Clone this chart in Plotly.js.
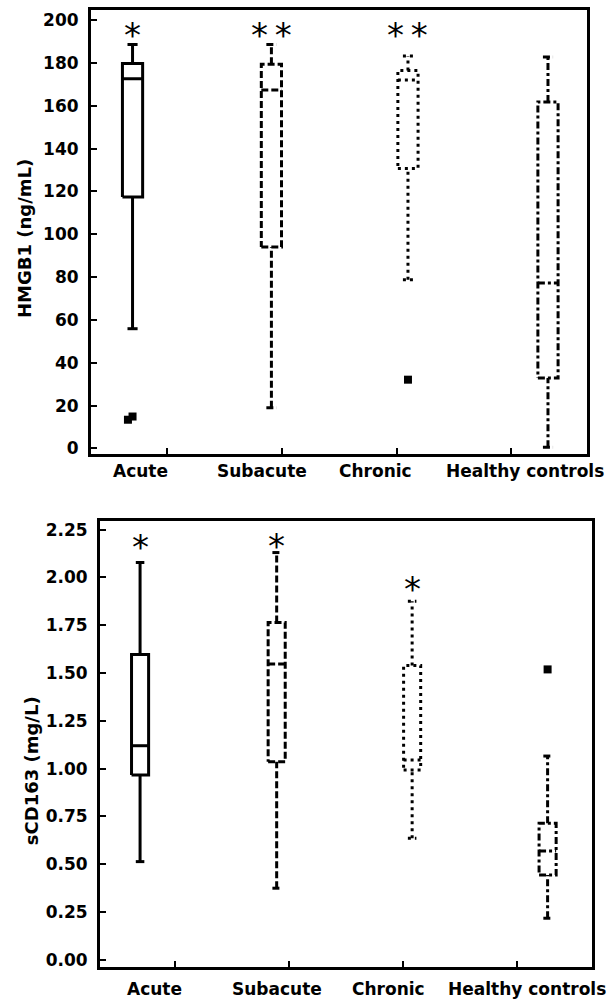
<!DOCTYPE html>
<html><head><meta charset="utf-8">
<script src="https://cdn.plot.ly/plotly-3.0.1.min.js"></script>
<style>html,body{margin:0;padding:0;background:#fff}</style>
</head><body><div id="chart" style="width:608px;height:999px"></div>
<script>
// ---- data ----
const categories = ['Acute', 'Subacute', 'Chronic', 'Healthy controls'];

// HMGB1 (ng/mL) box statistics
const hmgbLower  = [55.9, 19.0, 78.8, 0.6];
const hmgbQ1     = [117.4, 94.0, 130.7, 32.9];
const hmgbMedian = [172.6, 167.3, 172.0, 77.2];
const hmgbQ3     = [179.7, 179.4, 176.5, 161.8];
const hmgbUpper  = [188.6, 188.6, 183.2, 182.8];
const hmgbOutGroup  = [0, 0, 2];
const hmgbOutValue  = [13.4, 14.9, 32.1];
const hmgbOutJitter = [-0.04, 0.0, 0.0];
const hmgbStars  = ['*', '*\u2009*', '*\u2009*', ''];
const hmgbStarY  = [194, 194, 194, null];

// sCD163 (mg/L) box statistics
const cdLower  = [0.514, 0.375, 0.636, 0.218];
const cdQ1     = [0.967, 1.036, 0.993, 0.444];
const cdMedian = [1.120, 1.547, 1.045, 0.570];
const cdQ3     = [1.597, 1.764, 1.540, 0.714];
const cdUpper  = [2.078, 2.130, 1.875, 1.066];
const cdOutGroup  = [3];
const cdOutValue  = [1.519];
const cdOutJitter = [0.0];
const cdStars  = ['*', '*', '*', ''];
const cdStarY  = [2.18, 2.185, 1.96, null];

// ---- styling ----
const posTop = [0.70, 1.91, 3.10, 4.32];
const posBot = [0.69, 1.89, 3.08, 4.27];
const labelPosTop = [0.77, 1.83, 2.82, 4.12];
const labelPosBot = [0.815, 1.89, 2.87, 4.09];
const dashes = ['solid', '7px,3px', '3px,4px', '7px,3px,3px,3px'];
const FONT = 'DejaVu Sans, Arial, sans-serif';

function boxPath(p, lo, q1, med, q3, hi, hw) {
  const cw = hw / 2;
  const xs = [p - cw, p + cw, null, p, p, null,
              p - hw, p + hw, p + hw, p - hw, p - hw, null,
              p - hw, p + hw, null, p, p, null, p - cw, p + cw];
  const ys = [lo, lo, null, lo, q1, null,
              q1, q1, q3, q3, q1, null,
              med, med, null, q3, hi, null, hi, hi];
  return {xs, ys};
}

const traces = [];
function addPanel(pos, lo, q1, med, q3, hi, outG, outV, outJ, hw, xa, ya) {
  categories.forEach((c, i) => {
    const b = boxPath(pos[i], lo[i], q1[i], med[i], q3[i], hi[i], hw);
    traces.push({
      type: 'scatter', mode: 'lines', x: b.xs, y: b.ys, name: c,
      xaxis: xa, yaxis: ya, connectgaps: false, showlegend: false,
      line: {color: '#000', width: 3, dash: dashes[i]}, hoverinfo: 'skip'
    });
  });
  traces.push({
    type: 'scatter', mode: 'markers', xaxis: xa, yaxis: ya, showlegend: false,
    x: outG.map((g, k) => pos[g] + outJ[k]), y: outV,
    marker: {symbol: 'square', size: 8, color: '#000'}
  });
}
addPanel(posTop, hmgbLower, hmgbQ1, hmgbMedian, hmgbQ3, hmgbUpper,
         hmgbOutGroup, hmgbOutValue, hmgbOutJitter, 0.088, 'x', 'y');
addPanel(posBot, cdLower, cdQ1, cdMedian, cdQ3, cdUpper,
         cdOutGroup, cdOutValue, cdOutJitter, 0.075, 'x2', 'y2');

const annotations = [];
categories.forEach((c, i) => {
  annotations.push({text: c, xref: 'x', yref: 'paper', x: labelPosTop[i], y: 0.5285,
    xanchor: 'center', yanchor: 'middle', showarrow: false,
    font: {family: FONT, size: 17, color: '#000', weight: 'bold'}});
  annotations.push({text: c, xref: 'x2', yref: 'paper', x: labelPosBot[i], y: 0.010,
    xanchor: 'center', yanchor: 'middle', showarrow: false,
    font: {family: FONT, size: 17, color: '#000', weight: 'bold'}});
  if (hmgbStars[i]) annotations.push({text: hmgbStars[i], xref: 'x', yref: 'y',
    x: posTop[i], y: hmgbStarY[i], yshift: -2, showarrow: false,
    xanchor: 'center', yanchor: 'middle', font: {family: FONT, size: 34, color: '#000'}});
  if (cdStars[i]) annotations.push({text: cdStars[i], xref: 'x2', yref: 'y2',
    x: posBot[i], y: cdStarY[i], yshift: -4, showarrow: false,
    xanchor: 'center', yanchor: 'middle', font: {family: FONT, size: 34, color: '#000'}});
});
annotations.push({text: 'HMGB1 (ng/mL)', xref: 'paper', yref: 'paper', x: 25/608, y: 0.7608,
  textangle: -90, showarrow: false, xanchor: 'center', yanchor: 'middle',
  font: {family: FONT, size: 18, color: '#000', weight: 'bold'}});
annotations.push({text: 'sCD163 (mg/L)', xref: 'paper', yref: 'paper', x: 31/608, y: 0.228,
  textangle: -90, showarrow: false, xanchor: 'center', yanchor: 'middle',
  font: {family: FONT, size: 18, color: '#000', weight: 'bold'}});

const xCommon = {
  showgrid: false, zeroline: false, showline: true, linecolor: '#000', linewidth: 3,
  mirror: true, ticks: 'inside', ticklen: 6, tickwidth: 2, tickcolor: '#000',
  tickvals: [1, 2, 3, 4], showticklabels: false, range: [0.338, 4.66], fixedrange: true
};
const yCommon = {
  showgrid: false, zeroline: false, showline: true, linecolor: '#000', linewidth: 3,
  mirror: true, ticks: 'inside', ticklen: 6, tickwidth: 2, tickcolor: '#000',
  ticklabelstandoff: 6,
  tickfont: {family: FONT, size: 17, color: '#000', weight: 'bold'}, fixedrange: true
};

const layout = {
  width: 608, height: 999, autosize: false,
  margin: {l: 0, r: 0, t: 0, b: 0},
  paper_bgcolor: '#fff', plot_bgcolor: '#fff', showlegend: false,
  xaxis: Object.assign({}, xCommon, {domain: [91/608, 587/608], anchor: 'y'}),
  yaxis: Object.assign({}, yCommon, {domain: [(999-454)/999, (999-10)/999], anchor: 'x',
    range: [-2.6, 204.7], tickvals: [0,20,40,60,80,100,120,140,160,180,200]}),
  xaxis2: Object.assign({}, xCommon, {domain: [100/608, 592/608], anchor: 'y2'}),
  yaxis2: Object.assign({}, yCommon, {domain: [(999-967)/999, (999-521)/999], anchor: 'x2',
    range: [-0.037, 2.295], tickvals: [0,0.25,0.5,0.75,1,1.25,1.5,1.75,2,2.25], tickformat: '.2f'}),
  annotations: annotations
};

Plotly.newPlot('chart', traces, layout, {staticPlot: true, displayModeBar: false});
</script></body></html>
